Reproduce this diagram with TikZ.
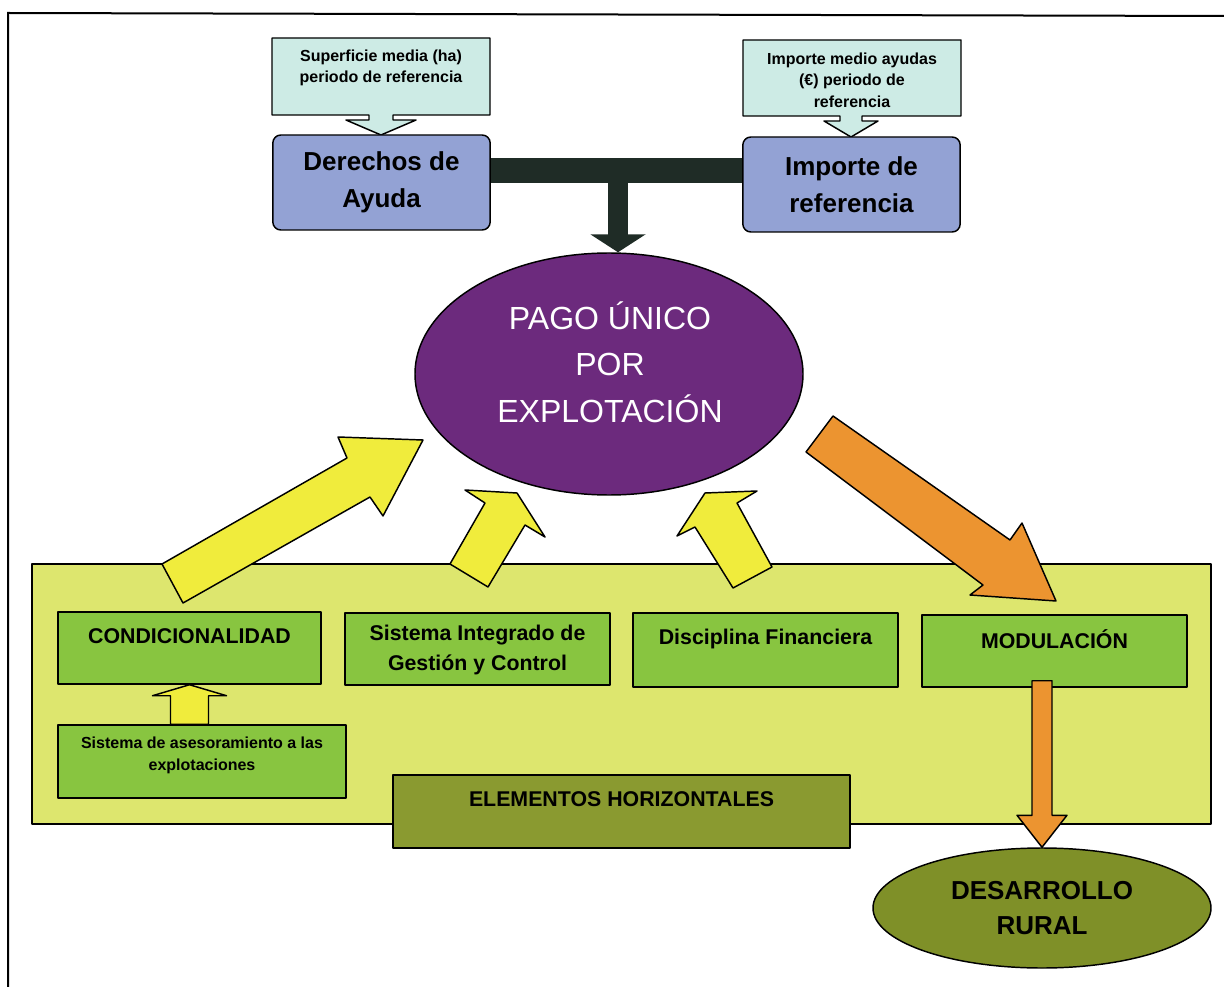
\documentclass[tikz,border=0pt]{standalone}
\usepackage{fontspec}
\setmainfont{Liberation Sans}
\usetikzlibrary{shapes.geometric,calc,arrows.meta}

\definecolor{calloutcyan}{HTML}{CDEBE5}
\definecolor{bluebox}{HTML}{93A2D4}
\definecolor{darkbar}{HTML}{1F2C26}
\definecolor{pagopurple}{HTML}{6C2A7D}
\definecolor{horizfill}{HTML}{DDE66E}
\definecolor{greenbox}{HTML}{88C540}
\definecolor{olivebox}{HTML}{8A9A30}
\definecolor{ruralolive}{HTML}{7F9028}
\definecolor{yellowarr}{HTML}{F0EC3C}
\definecolor{orangearr}{HTML}{EC9430}

\tikzset{every picture/.style={line width=0.75pt}}
\tikzset{
  outline/.style={draw=black, line width=1.1pt, line join=round},
  callout/.style={outline, fill=calloutcyan},
  derbox/.style={outline, fill=bluebox, rounded corners=6pt, minimum width=163pt, minimum height=71.25pt, inner sep=0pt, align=center, font=\bfseries\fontsize{19.5}{28}\selectfont},
  gbox/.style={outline, fill=greenbox, minimum width=198.75pt, minimum height=54pt, inner sep=0pt},
  smalltxt/.style={inner sep=0pt, align=center, font=\bfseries\fontsize{12}{16}\selectfont},
  gtxt/.style={inner sep=0pt, align=center, font=\bfseries\fontsize{16}{22}\selectfont},
  yarrow/.style={outline, fill=yellowarr},
  oarrow/.style={outline, fill=orangearr},
}

\begin{document}
\begin{tikzpicture}[x=0.75pt,y=0.75pt,yscale=-1,xscale=1]
    \useasboundingbox (0,0) rectangle (1224,987);
    %Frame
    \draw [line width=1.5pt] (1224,16) -- (8,13) -- (8,987) ;

    %Shape: Down Arrow Callout
    \draw [callout] (272,38) -- (490,38) -- (490,115) -- (393,115) -- (393,120) -- (416,120) -- (381,135) -- (346,120) -- (369,120) -- (369,115) -- (272,115) -- cycle ;
    % Text Node
    \node [smalltxt] (suptxt) at (381,68) {Superficie media (ha)\\periodo de referencia};
    %Shape: Down Arrow Callout
    \draw [callout] (743,40) -- (961,40) -- (961,116) -- (862,116) -- (862,121) -- (878,121) -- (851,137) -- (824,121) -- (840,121) -- (840,116) -- (743,116) -- cycle ;
    % Text Node
    \node [smalltxt] (imptxt) at (852,80) {Importe medio ayudas\\(€) periodo de\\referencia};

    %Shape: Rounded Rect
    \node [derbox] (der) at (381.5,182.5) {Derechos de\\Ayuda};
    \node [derbox] (imp) at (851.5,184.5) {Importe de\\referencia};

    %Shape: Ellipse
    \node [ellipse, outline, fill=pagopurple, minimum width=291pt, minimum height=181.5pt, inner sep=0pt] (pago) at (609,374) {};
    % Text Node
    \node [inner sep=0pt, align=center, text=white, font=\fontsize{24}{35}\selectfont] (pagotxt) at (610,362) {PAGO ÚNICO\\POR\\EXPLOTACIÓN};

    %Connector: T bar
    \coordinate (tj) at (618,170.5);
    \draw [darkbar, line width=18.75pt] (der.east |- tj) -- (imp.west |- tj) ;
    \draw [darkbar, line width=15pt, -{Triangle[width=41pt,length=13.5pt]}] (tj) -- (tj |- pago.north) ;

    %Shape: Rectangle
    \node [outline, fill=horizfill, minimum width=884.25pt, minimum height=195pt, inner sep=0pt] (horiz) at (621.5,694) {};

    %Shape: Arrows
    \draw [yarrow] (162,564) -- (347,458) -- (338,437) -- (423,440) -- (383,516) -- (370,497) -- (183,603) -- cycle ;
    \draw [yarrow] (450,564) -- (485,503) -- (465,490) -- (517,493) -- (545,537) -- (525,525) -- (488,587) -- cycle ;
    \draw [yarrow] (733,588) -- (695,527) -- (677,536) -- (705,493) -- (757,491) -- (737,503) -- (772,567) -- cycle ;
    \draw [oarrow] (833,416) -- (1010,540) -- (1022,523) -- (1056,601) -- (970,595) -- (983,585) -- (806,452) -- cycle ;

    %Shape: Green boxes
    \node [gbox, minimum width=197.25pt] (cond) at (189.5,648) {};
    \node [gtxt] (condtxt) at ($(cond.north)+(0,25)$) {CONDICIONALIDAD};
    \node [gbox] (sig) at (477.5,649) {};
    \node [gtxt] (sigtxt) at ($(sig.center)+(0,1)$) {Sistema Integrado de\\Gestión y Control};
    \node [gbox, minimum height=55.5pt] (dis) at (765.5,650) {};
    \node [gtxt] (distxt) at ($(dis.north)+(0,27)$) {Disciplina Financiera};
    \node [gbox] (mod) at (1054.5,651) {};
    \node [gtxt] (modtxt) at ($(mod.north)+(0,25)$) {MODULACIÓN};
    \node [gbox, minimum width=216pt, minimum height=54.75pt] (ase) at (202,761.5) {};
    \node [smalltxt] (asetxt) at ($(ase.center)+(0,-6)$) {Sistema de asesoramiento a las\\explotaciones};

    %Shape: Up Arrow
    \draw [yarrow] ($(cond.south |- ase.north)+(-19,0)$) -- ($(cond.south)+(-19,11)$) -- ($(cond.south)+(-37,11)$) -- (cond.south) -- ($(cond.south)+(37,11)$) -- ($(cond.south)+(19,11)$) -- ($(cond.south |- ase.north)+(19,0)$) -- cycle ;

    %Shape: Rectangle
    \node [outline, fill=olivebox, minimum width=342.75pt, minimum height=54.75pt, inner sep=0pt] (ele) at (621.5,811.5) {};
    \node [gtxt] (eletxt) at ($(ele.north)+(0,25)$) {ELEMENTOS HORIZONTALES};

    %Shape: Ellipse
    \node [ellipse, outline, fill=ruralolive, minimum width=253.5pt, minimum height=90pt, inner sep=0pt, align=center, font=\bfseries\fontsize{19.5}{26}\selectfont] (des) at (1042,908) {DESARROLLO\\RURAL};

    %Shape: Down Arrow
    \draw [oarrow] ($(des.north |- mod.south)+(-10,-7)$) -- ($(des.north)+(-10,-32)$) -- ($(des.north)+(-25,-32)$) -- (des.north) -- ($(des.north)+(25,-32)$) -- ($(des.north)+(10,-32)$) -- ($(des.north |- mod.south)+(10,-7)$) -- cycle ;
\end{tikzpicture}
\end{document}
